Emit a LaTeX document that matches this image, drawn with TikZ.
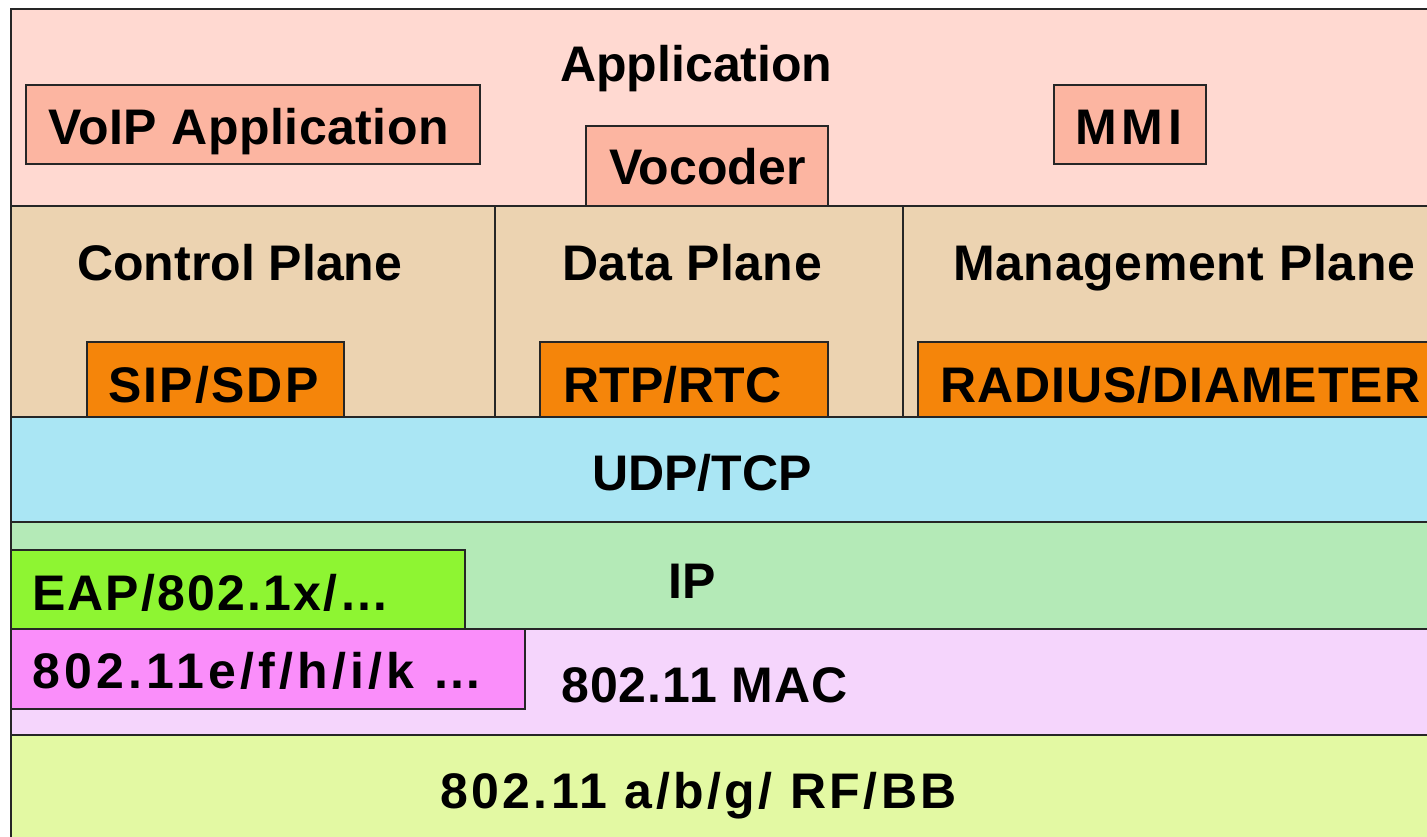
\documentclass[tikz,border=0pt]{standalone}
\usepackage{fontspec}
\setmainfont{Liberation Sans}
\definecolor{apppink}{HTML}{FFD9D1}
\definecolor{appbox}{HTML}{FCB5A1}
\definecolor{planetan}{HTML}{ECD3B1}
\definecolor{protoorange}{HTML}{F5850A}
\definecolor{udpcyan}{HTML}{AAE6F4}
\definecolor{ipgreen}{HTML}{B4EAB7}
\definecolor{maclilac}{HTML}{F5D5FC}
\definecolor{phyyellow}{HTML}{E3F9A3}
\definecolor{eaplime}{HTML}{8EF532}
\definecolor{extmagenta}{HTML}{FA8EFA}
\tikzset{
  layer/.style={draw=black!85,line width=1.5pt},
  lbl/.style={anchor=base west,inner sep=0pt,
    font=\fontsize{50}{60}\selectfont\bfseries\addfontfeature{LetterSpace=#1}},
  lbl/.default=0
}
\begin{document}
\begin{tikzpicture}[x=1pt,y=-1pt]
\useasboundingbox[fill=white] (0,0) rectangle (1427,837);
\clip (0,0) rectangle (1427,837);
% layers
\draw[layer,fill=apppink] (11,9) rectangle (1440,206);
\draw[layer,fill=planetan] (11,206) rectangle (495,417);
\draw[layer,fill=planetan] (495,206) rectangle (903,417);
\draw[layer,fill=planetan] (903,206) rectangle (1440,417);
\draw[layer,fill=udpcyan] (11,417) rectangle (1440,522);
\draw[layer,fill=ipgreen] (11,522) rectangle (1440,629);
\draw[layer,fill=maclilac] (11,629) rectangle (1440,735);
\draw[layer,fill=phyyellow] (11,735) rectangle (1440,850);
% boxes
\draw[layer,fill=appbox] (26,85) rectangle (480,164);
\draw[layer,fill=appbox] (586,126) rectangle (828,206);
\draw[layer,fill=appbox] (1054,85) rectangle (1206,164);
\draw[layer,fill=protoorange] (87,342) rectangle (344,417);
\draw[layer,fill=protoorange] (540,342) rectangle (828,417);
\draw[layer,fill=protoorange] (918,342) rectangle (1440,417);
\draw[layer,fill=eaplime] (11,550) rectangle (465,629);
\draw[layer,fill=extmagenta] (11,629) rectangle (525,709);
% labels
\node[lbl] (app) at (560,82) {Application};
\node[lbl=1] (voip) at (48,145) {VoIP Application};
\node[lbl] (vocoder) at (609,185) {Vocoder};
\node[lbl=10] (mmi) at (1075,145) {MMI};
\node[lbl] (ctrl) at (77,280) {Control Plane};
\node[lbl=1] (data) at (562,280) {Data Plane};
\node[lbl=1.3] (mgmt) at (953,280) {Management Plane};
\node[lbl=4.3] (sip) at (108,402) {SIP/SDP};
\node[lbl=0.5] (rtp) at (563,402) {RTP/RTC};
\node[lbl=1.9] (radius) at (940,402) {RADIUS/DIAMETER};
\node[lbl] (udp) at (592,490) {UDP/TCP};
\node[lbl] (ip) at (668,598) {IP};
\node[lbl=4.3] (eap) at (32,610) {EAP/802.1x/\ldots};
\node[lbl=8.6] (ext) at (32,688) {802.11e/f/h/i/k \ldots};
\node[lbl=2.2] (mac) at (561,702) {802.11 MAC};
\node[lbl=6.9] (phy) at (440,808) {802.11 a/b/g/ RF/BB};
\end{tikzpicture}
\end{document}
